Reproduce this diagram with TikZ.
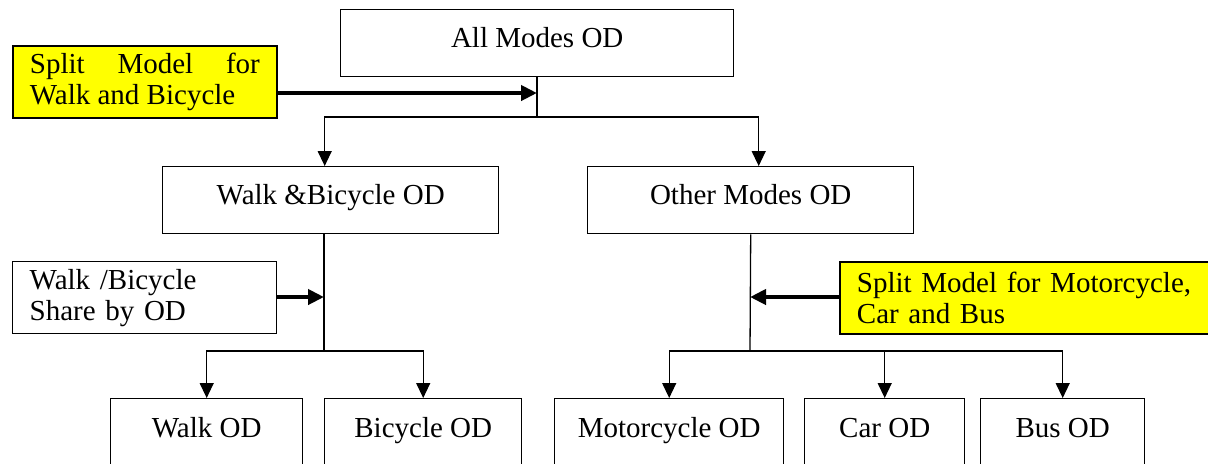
\documentclass[tikz,border=0pt]{standalone}
\usepackage{fontspec}
\setmainfont{Liberation Serif}
\usetikzlibrary{positioning}
\usetikzlibrary{calc,arrows.meta}
\definecolor{modelyellow}{RGB}{255,255,0}

\begin{document}
\begin{tikzpicture}
	[   x=0.5pt,y=-0.5pt,
	    odbox/.style={draw=black,line width=0.7pt,fill=#1,anchor=north west,inner sep=0pt,minimum height=33.5pt,text height=10pt,text depth=6pt,font=\fontsize{14.5}{15.5}\selectfont},
	    odbox/.default=white,
	    mbox/.style={draw=black,line width=0.9pt,fill=#1,anchor=north west,inner xsep=8.5pt,inner ysep=0pt,minimum height=36pt,font=\fontsize{14.5}{15.5}\selectfont},
	]
	\tikzset{thin arrow/.style={draw,line width=0.65pt,-{Triangle[width=7pt,length=7.5pt]}}}
	\tikzset{thick arrow/.style={draw,line width=2.2pt,-{Triangle[width=7.5pt,length=8pt]}}}
	\useasboundingbox (0,0) rectangle (1208,463);
	
	\node[odbox,minimum width=196.5pt] (all) at (340,9) {All Modes OD};
	\node[odbox,minimum width=168pt] (wb) at (162,166) {Walk \&Bicycle OD};
	\node[odbox,minimum width=163pt] (om) at (587,166) {Other Modes OD};
	
	\node[mbox=modelyellow,text width=115pt,align=justify] (swb) at (12,45) {Split Model for Walk and Bicycle};
	\node[mbox=white,text width=115pt,align=left,line width=0.7pt] (share) at (12,261) {Walk /Bicycle\\Share by OD};
	\node[mbox=modelyellow,text width=172pt,align=left] (smcb) at (839,261) {Split Model for Motorcycle,\\Car and Bus};
	
	\foreach \n/\x/\w/\t in {walk/110/96/Walk OD,bike/324/98.5/Bicycle OD,moto/554/114.5/Motorcycle OD,car/804/80/Car OD,bus/980/82/Bus OD}
	{
		\node[odbox,minimum height=35pt,minimum width=\w pt] (\n) at (\x,398) {\t};
	}
	
	% junctions on the trunk lines
	\coordinate (j0) at (537,93);
	\coordinate (j1) at (537,117);
	\coordinate (j2) at (324,297);
	\coordinate (j3) at (750,297);
	\coordinate (j4) at (324,351);
	\coordinate (j5) at (750,351);
	
	\draw[line width=0.65pt] (all.south -| j1) -- (j1);
	\path[thin arrow] (j1) -| ([xshift=-3pt]wb.north);
	\path[thin arrow] (j1) -| ([xshift=4pt]om.north);
	\path[thick arrow] (swb.east |- j0) -- (j0);
	
	\draw[line width=0.65pt] (wb.south -| j4) -- (j4);
	\draw[line width=0.65pt] (om.south) -- (j5);
	\path[thick arrow] (share.east |- j2) -- (j2);
	\path[thick arrow] (smcb.west |- j3) -- (j3);
	
	\path[thin arrow] (j4) -| (walk.north);
	\path[thin arrow] (j4) -| (bike.north);
	\foreach \n in {moto,car,bus}
		\path[thin arrow] (j5) -| (\n.north);
\end{tikzpicture}
\end{document}
